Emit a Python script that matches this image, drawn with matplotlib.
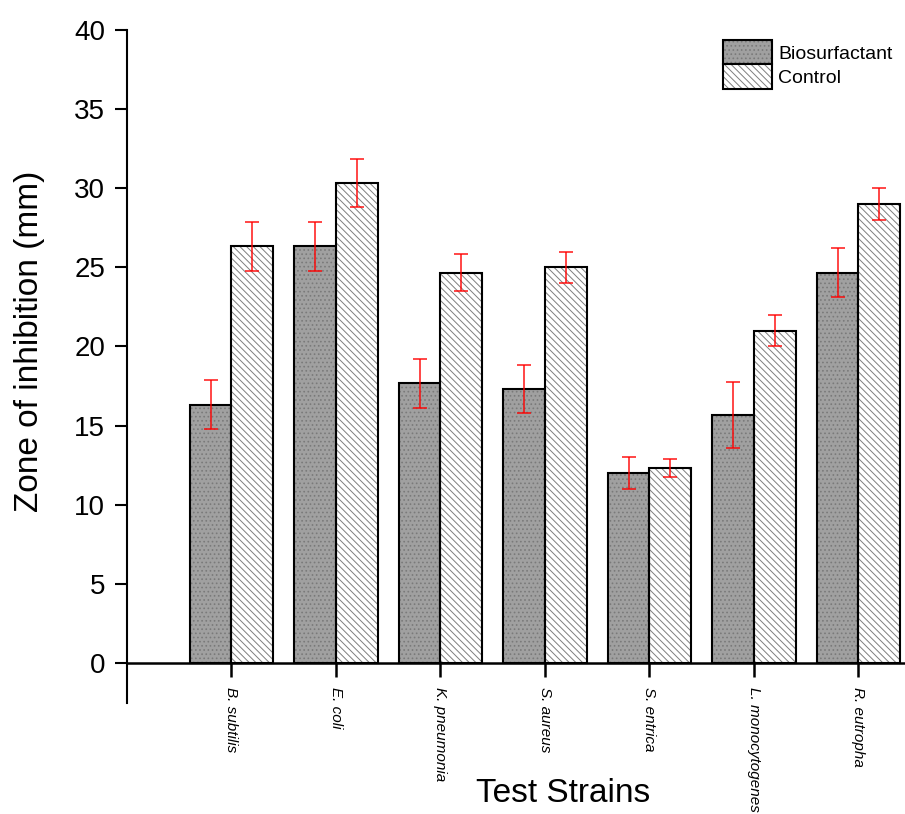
import numpy as np
import matplotlib
matplotlib.use('Agg')
import matplotlib.pyplot as plt
import matplotlib as mpl

strains = ['B. subtilis', 'E. coli', 'K. pneumonia', 'S. aureus',
           'S. entrica', 'L. monocytogenes', 'R. eutropha']
bio = [16.33, 26.33, 17.67, 17.33, 12.0, 15.67, 24.67]
bio_err = [1.53, 1.53, 1.53, 1.53, 1.0, 2.08, 1.53]
ctrl = [26.33, 30.33, 24.67, 25.0, 12.33, 21.0, 29.0]
ctrl_err = [1.53, 1.53, 1.15, 1.0, 0.58, 1.0, 1.0]
yticks = [0, 5, 10, 15, 20, 25, 30, 35, 40]

mpl.rcParams['font.family'] = ['Liberation Sans', 'DejaVu Sans']
mpl.rcParams['hatch.linewidth'] = 0.7

fig = plt.figure(figsize=(9.05, 8.14), dpi=100)
ax = fig.add_axes([127 / 905, 1 - 703 / 814, 1 - 127 / 905, (703 - 30) / 814])

x = np.arange(1, len(strains) + 1)
w = 0.4

# fill + hatch first, then the black outline on top
b1 = ax.bar(x - w / 2, bio, w, color='#a0a0a0', edgecolor='#7a7a7a', hatch='....',
            linewidth=0, zorder=2)
b2 = ax.bar(x + w / 2, ctrl, w, color='white', edgecolor='#7e7e7e', hatch='\\\\\\\\\\',
            linewidth=0, zorder=2)
o1 = ax.bar(x - w / 2, bio, w, fill=False, edgecolor='black', linewidth=1.5, zorder=3)
o2 = ax.bar(x + w / 2, ctrl, w, fill=False, edgecolor='black', linewidth=1.5, zorder=3)

ax.errorbar(x - w / 2, bio, yerr=bio_err, fmt='none', ecolor='red', elinewidth=1.2,
            capsize=5, capthick=1.2, alpha=0.85, zorder=4)
ax.errorbar(x + w / 2, ctrl, yerr=ctrl_err, fmt='none', ecolor='red', elinewidth=1.2,
            capsize=5, capthick=1.2, alpha=0.85, zorder=4)

ax.set_xlim(0, 7.445)
ax.set_ylim(-2.53, 40)

for s in ['top', 'right']:
    ax.spines[s].set_visible(False)
ax.spines['bottom'].set_position(('data', 0))
ax.spines['left'].set_linewidth(1.5)
ax.spines['bottom'].set_linewidth(1.8)
ax.tick_params(axis='y', direction='out', length=8.6, width=1.5, pad=7, labelsize=20)
ax.tick_params(axis='x', direction='out', length=10, width=1.8, pad=7)

ax.set_yticks(yticks)
ax.set_xticks(x)
ax.set_xticklabels(strains)
for lbl in ax.get_xticklabels():
    lbl.set_rotation(270)
    lbl.set_fontstyle('italic')
    lbl.set_fontsize(11)
    lbl.set_ha('center')
    lbl.set_va('top')

ax.set_ylabel('Zone of inhibition (mm)', fontsize=24)
ax.yaxis.set_label_coords(-(127 - 30) / 778, (703 - 341) / 673)
ax.yaxis.label.set_va('center')
ax.set_xlabel('Test Strains', fontsize=24)
ax.xaxis.set_label_coords((563 - 127) / 778, -(793 - 703) / 673)
ax.xaxis.label.set_va('center')

ax.legend([(b1, o1), (b2, o2)], ['Biosurfactant', 'Control'],
          loc='upper left', bbox_to_anchor=(723 / 905, 1 - 40 / 814),
          bbox_transform=fig.transFigure, frameon=False, fontsize=14,
          borderpad=0, borderaxespad=0, handlelength=2.5, handleheight=1.55,
          handletextpad=0.35, labelspacing=0.0)

fig.savefig('out.png', dpi=100)
